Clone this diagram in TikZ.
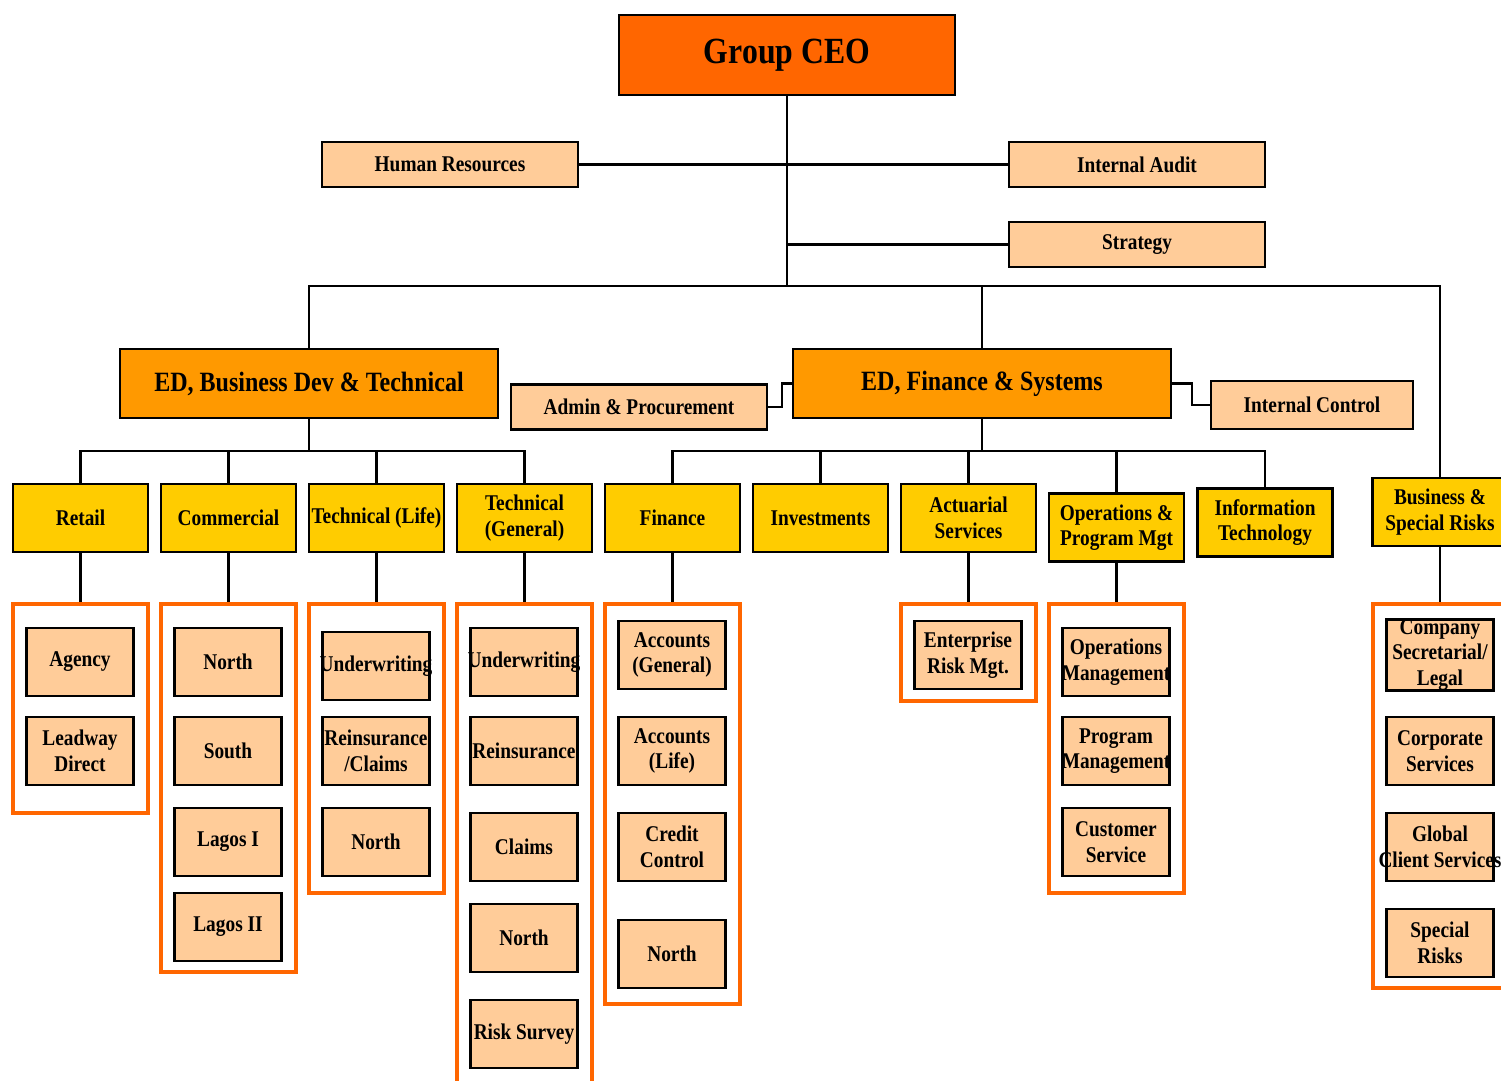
\documentclass[tikz,border=0pt]{standalone}
\usepackage{fontspec}
\setmainfont{Liberation Serif}[FakeStretch=0.86]
\usepackage{tikz}
\usetikzlibrary{positioning}

\definecolor{ceoorange}{HTML}{FF6600}
\definecolor{execorange}{HTML}{FF9900}
\definecolor{deptyellow}{HTML}{FFCC00}
\definecolor{peach}{HTML}{FFCC99}
\definecolor{frameorange}{HTML}{FF6600}

\begin{document}
\begin{tikzpicture}[
  x=0.02cm, y=-0.02cm,
  every node/.style={draw, inner sep=0pt, line width=1.3pt, align=center,
    font=\fontsize{12.8}{14.5}\selectfont\bfseries},
  ceo/.style={fill=ceoorange, minimum width=6.72cm, minimum height=1.6cm,
    font=\fontsize{21}{25}\selectfont\bfseries},
  exec/.style={fill=execorange, minimum width=7.56cm, minimum height=1.38cm,
    font=\fontsize{15.9}{19}\selectfont\bfseries},
  staff/.style={fill=peach, minimum width=5.12cm, minimum height=0.9cm},
  dept/.style={fill=deptyellow, minimum width=2.7cm, minimum height=1.36cm},
  unit/.style={fill=peach, minimum width=2.14cm, minimum height=1.36cm},
  grp/.style={draw=frameorange, line width=2.3pt, minimum width=2.7cm},
  link/.style={line width=1.4pt}
]
\useasboundingbox (0,0) rectangle (1501,1081);

% top level
\node[ceo] (ceo) at (787,55) {Group CEO};
\node[staff] (hr) at (450,164.5) {Human Resources};
\node[staff] (ia) at (1137,164.5) {Internal Audit};
\node[staff] (strategy) at (1137,244.5) {Strategy};

% executive directors
\node[exec] (edbd) at (309,383.5) {ED, Business Dev \& Technical};
\node[exec] (edfs) at (982,383.5) {ED, Finance \& Systems};
\node[staff] (admin) at (639,407) {Admin \& Procurement};
\node[staff, minimum width=4.04cm, minimum height=0.96cm] (ictl) at (1312,405) {Internal Control};

% departments
\node[dept] (retail) at (80.5,518) {Retail};
\node[dept] (comm) at (228.5,518) {Commercial};
\node[dept] (techl) at (376.5,518) {\makebox[0pt]{Technical (Life)}};
\node[dept] (techg) at (524.5,518) {Technical\\(General)};
\node[dept] (fin) at (672.5,518) {Finance};
\node[dept] (inv) at (820.5,518) {Investments};
\node[dept] (act) at (968.5,518) {Actuarial\\Services};
\node[dept] (ops) at (1116.5,527.5) {Operations \&\\Program Mgt};
\node[dept] (it) at (1265,522.5) {Information\\Technology};
\node[dept] (bsr) at (1440,512) {Business \&\\Special Risks};

% orange frames
\node[grp, minimum height=4.18cm] (retailgrp) at (80.5,708.5) {};
\node[grp, minimum height=7.36cm] (commgrp) at (228.5,788) {};
\node[grp, minimum height=5.78cm] (techlgrp) at (376.5,748.5) {};
\node[grp, minimum height=9.72cm] (techggrp) at (524.5,847) {};
\node[grp, minimum height=8cm] (fingrp) at (672.5,804) {};
\node[grp, minimum height=1.94cm] (actgrp) at (968.5,652.5) {};
\node[grp, minimum height=5.78cm] (opsgrp) at (1116.5,748.5) {};
\node[grp, minimum height=7.68cm] (bsrgrp) at (1440,796) {};

% units
\node[unit] (agency) at (80,662) {Agency};
\node[unit] (leadway) at (80,751) {Leadway\\Direct};

\node[unit] (north1) at (228,662) {North};
\node[unit] (south) at (228,751) {South};
\node[unit] (lagos1) at (228,842) {Lagos I};
\node[unit] (lagos2) at (228,927) {Lagos II};

\node[unit] (uwl) at (376,666) {\makebox[0pt]{Underwriting}};
\node[unit] (reinl) at (376,751) {Reinsurance\\/Claims};
\node[unit] (northl) at (376,842) {North};

\node[unit] (uwg) at (524,662) {\makebox[0pt]{Underwriting}};
\node[unit] (reing) at (524,751) {Reinsurance};
\node[unit] (claims) at (524,847) {Claims};
\node[unit] (northg) at (524,938) {North};
\node[unit] (risksurvey) at (524,1034) {Risk Survey};

\node[unit] (accg) at (672,655) {Accounts\\(General)};
\node[unit] (accl) at (672,751) {Accounts\\(Life)};
\node[unit] (credit) at (672,847) {Credit\\Control};
\node[unit] (northf) at (672,954) {North};

\node[unit] (erm) at (968,655) {Enterprise\\Risk Mgt.};

\node[unit] (opsmgmt) at (1116,662) {Operations\\\makebox[0pt]{Management}};
\node[unit] (progmgmt) at (1116,751) {Program\\\makebox[0pt]{Management}};
\node[unit] (custsvc) at (1116,842) {Customer\\Service};

\node[unit] (cosec) at (1440,655) {Company\\Secretarial/\\Legal};
\node[unit] (corpsvc) at (1440,751) {Corporate\\Services};
\node[unit] (global) at (1440,847) {Global\\\makebox[0pt]{Client Services}};
\node[unit] (special) at (1440,943) {Special\\Risks};

% connectors
\coordinate (topbus) at (787,286);
\coordinate (stratjoin) at (787,244.5);
\coordinate (busbd) at (309,451);
\coordinate (busfs) at (982,451);

\draw[link] (ceo) -- (topbus);
\draw[link] (hr) -- (ia);
\draw[link] (stratjoin) -- (strategy);
\foreach \e in {edbd,edfs,bsr}
  \draw[link] (topbus) -| (\e);

\draw[link] (admin.east) -- ++(14,0) |- (edfs.west);
\draw[link] (edfs.east) -- ++(20,0) |- (ictl.west);

\draw[link] (edbd) -- (busbd);
\foreach \d in {retail,comm,techl,techg}
  \draw[link] (busbd) -| (\d);
\draw[link] (edfs) -- (busfs);
\foreach \d in {fin,inv,act,ops,it}
  \draw[link] (busfs) -| (\d);

\foreach \d in {retail,comm,techl,techg,fin,act,ops,bsr}
  \draw[link] (\d) -- (\d grp);

\end{tikzpicture}
\end{document}
